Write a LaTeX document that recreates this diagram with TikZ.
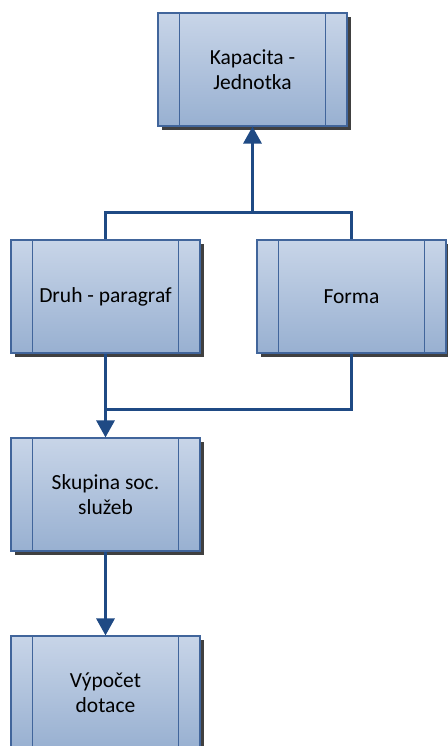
\documentclass[tikz,border=0pt]{standalone}
\usepackage{fontspec}
\setmainfont{Carlito}
\usetikzlibrary{shadows,arrows.meta,calc}
\definecolor{boxtop}{HTML}{C8D5E8}
\definecolor{boxbot}{HTML}{98B0D1}
\definecolor{boxline}{HTML}{41659B}
\definecolor{conncol}{HTML}{1F4A84}
\definecolor{shadowcol}{HTML}{404040}
\tikzset{
  procbox/.style={rectangle, minimum width=189pt, minimum height=113pt,
    inner sep=0pt, top color=boxtop, bottom color=boxbot, draw=boxline,
    line width=1.1pt, align=center,
    font=\fontsize{21.5}{25.5}\selectfont,
    drop shadow={shadow xshift=4pt, shadow yshift=-4pt, fill=shadowcol, opacity=1}},
  conn/.style={draw=conncol, line width=3pt},
  arr/.style={conn, -{Triangle[width=18pt,length=17pt]}},
}
\begin{document}
\begin{tikzpicture}[x=1pt,y=-1pt]
\useasboundingbox (0,0) rectangle (447,746);
\node[procbox] (K) at (252.5,69.5) {Kapacita -\\Jednotka};
\node[procbox] (D) at (105.5,296.5) {Druh - paragraf};
\node[procbox] (F) at (351.5,296.5) {Forma};
\node[procbox] (S) at (105.5,494.5) {Skupina soc.\\služeb};
\node[procbox] (V) at (105.5,692.5) {Výpočet\\dotace};
\foreach \n in {K,D,F,S,V}{
  \draw[boxline, line width=1.1pt] ($(\n.north west)+(22,0)$) -- ($(\n.south west)+(22,0)$);
  \draw[boxline, line width=1.1pt] ($(\n.north east)+(-22,0)$) -- ($(\n.south east)+(-22,0)$);
}
\coordinate (j1) at (K.south |- 0,212);
\coordinate (j2) at (D.south |- 0,409);
\draw[conn] (D.north) |- (j1) -| (F.north);
\draw[arr] (j1) -- (K.south);
\draw[conn] (F.south) |- (j2);
\draw[arr] (D.south) -- (S.north);
\draw[arr] (S.south) -- (V.north);
\end{tikzpicture}
\end{document}
